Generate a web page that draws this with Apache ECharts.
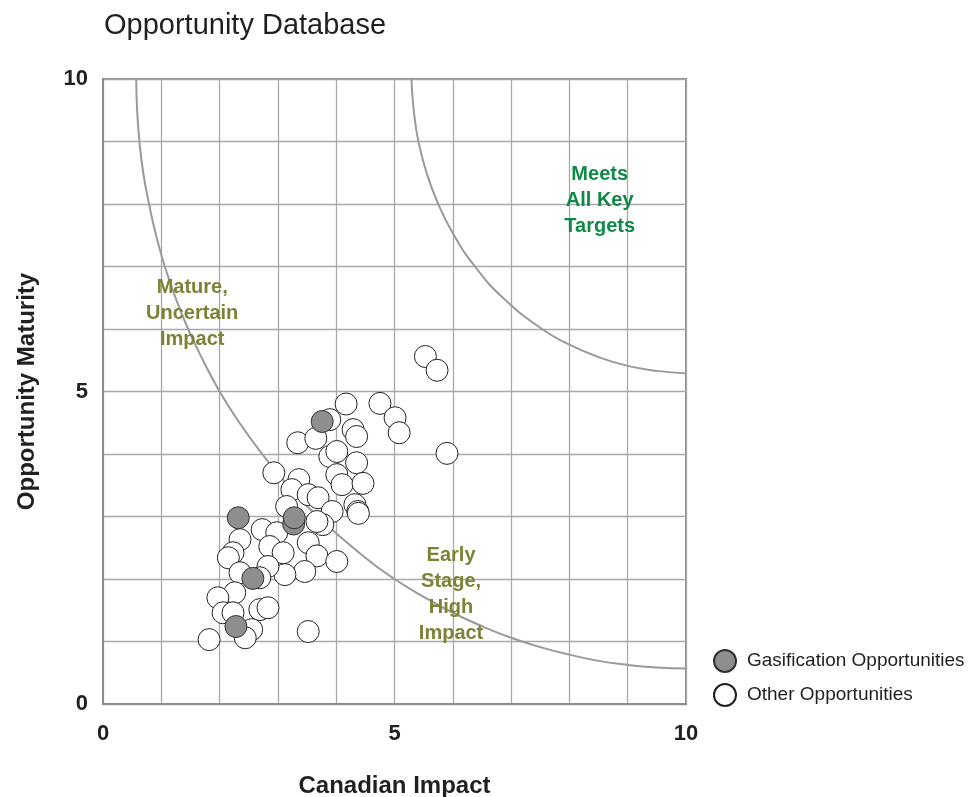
<!DOCTYPE html>
<html lang="en">
<head>
    <meta charset="utf-8">
    <title>Opportunity Database</title>
    <script src="https://cdn.jsdelivr.net/npm/echarts@6.0.0/dist/echarts.min.js"></script>
    <style>
        html, body { margin: 0; padding: 0; background: #fff; }
        #chart { width: 972px; height: 797px; }
    </style>
</head>
<body>
<div id="chart"></div>
<script type="text/javascript">
    // gasification opportunities [impact, maturity]
    var gasificationPoints = [
        [3.27, 2.88],
        [3.76, 4.52],
        [2.32, 2.98],
        [3.28, 2.98],
        [2.57, 2.01],
        [2.28, 1.24]
    ];

    // all other opportunities [impact, maturity]
    var otherPoints = [
        [5.53, 5.56], [5.73, 5.34], [4.17, 4.80], [4.75, 4.81], [5.01, 4.58],
        [5.08, 4.34], [5.90, 4.01], [3.89, 4.55], [4.29, 4.39], [4.35, 4.28],
        [3.34, 4.18], [3.65, 4.25], [3.89, 3.96], [4.01, 4.04], [4.35, 3.86],
        [4.01, 3.67], [4.10, 3.51], [4.46, 3.53], [2.93, 3.70], [3.36, 3.59],
        [3.24, 3.43], [3.52, 3.35], [3.69, 3.30], [3.15, 3.16], [3.93, 3.08],
        [4.32, 3.19], [4.37, 3.08], [4.38, 3.05], [3.77, 2.87], [3.67, 2.92],
        [2.35, 2.63], [2.23, 2.42], [2.15, 2.34], [2.73, 2.79], [2.98, 2.74],
        [2.86, 2.52], [3.09, 2.42], [3.52, 2.58], [3.67, 2.37], [4.01, 2.28],
        [3.46, 2.12], [3.12, 2.07], [2.83, 2.20], [2.69, 2.02], [2.35, 2.10],
        [2.26, 1.78], [1.97, 1.70], [2.06, 1.46], [2.23, 1.46], [2.69, 1.51],
        [2.83, 1.54], [2.55, 1.19], [2.44, 1.06], [1.82, 1.03], [3.52, 1.16]
    ];

    // boundary curves
    var innerCurve = [
        [0.57, 10], [0.585, 9.5], [0.625, 9], [0.69, 8.5], [0.79, 8], [0.91, 7.5],
        [1.06, 7], [1.245, 6.5], [1.46, 6], [1.715, 5.5], [2.0, 5], [2.34, 4.5],
        [2.73, 4], [3.17, 3.5], [3.68, 3], [4.5, 2.34], [5.0, 2.0], [5.5, 1.715],
        [6.0, 1.46], [6.5, 1.245], [7.0, 1.06], [7.5, 0.91], [8.0, 0.79],
        [8.5, 0.69], [9.0, 0.625], [9.5, 0.585], [10, 0.57]
    ];
    var outerCurve = [
        [5.29, 10], [5.33, 9.5], [5.41, 9], [5.55, 8.5], [5.75, 8], [6.02, 7.5],
        [6.38, 7], [6.86, 6.5], [7.53, 6], [8.0, 5.75], [8.5, 5.55],
        [9.0, 5.41], [9.5, 5.33], [10, 5.29]
    ];

    // region labels
    var regionLabels = [
        { name: 'Mature,\nUncertain\nImpact', value: [1.53, 6.25], color: '#7d8236' },
        { name: 'Meets\nAll Key\nTargets', value: [8.52, 8.06], color: '#0f8a46' },
        { name: 'Early\nStage,\nHigh\nImpact', value: [5.97, 1.76], color: '#7d8236' }
    ];

    var tickLabels = ['0', '5', '10'];
    var fontFamily = 'Liberation Sans, Arial, Helvetica, sans-serif';

    var myChart = echarts.init(document.getElementById('chart'));

    var curveStyle = { color: '#9a9a9c', width: 2 };

    function tickFormatter(v) {
        return tickLabels.indexOf(String(v)) >= 0 ? String(v) : '';
    }

    var option = {
        animation: false,
        textStyle: { fontFamily: fontFamily },
        title: {
            text: 'Opportunity Database',
            left: 99,
            top: 6,
            textStyle: { fontSize: 29, fontWeight: 'normal', color: '#231f20', fontFamily: fontFamily }
        },
        legend: {
            orient: 'vertical',
            left: 708,
            top: 644,
            itemWidth: 34,
            itemHeight: 22,
            itemGap: 10,
            icon: 'circle',
            data: ['Gasification Opportunities', 'Other Opportunities'],
            textStyle: { fontSize: 19, color: '#231f20', fontFamily: fontFamily }
        },
        grid: {
            left: 103,
            right: 286,
            top: 79,
            bottom: 93,
            containLabel: false,
            outerBoundsMode: 'none',
            show: true,
            borderColor: '#8c8c8e',
            borderWidth: 2
        },
        xAxis: {
            type: 'value',
            min: 0,
            max: 10,
            interval: 1,
            name: 'Canadian Impact',
            nameLocation: 'middle',
            nameGap: 70,
            nameTextStyle: { fontSize: 24, fontWeight: 'bold', color: '#231f20' },
            axisLine: { lineStyle: { color: '#8c8c8e', width: 2 } },
            axisTick: { show: false },
            splitLine: { lineStyle: { color: '#a9a9ab', width: 1.3 } },
            axisLabel: {
                fontSize: 22,
                fontWeight: 'bold',
                color: '#231f20',
                margin: 19,
                formatter: tickFormatter
            }
        },
        yAxis: {
            type: 'value',
            min: 0,
            max: 10,
            interval: 1,
            name: 'Opportunity Maturity',
            nameLocation: 'middle',
            nameRotate: 90,
            nameGap: 64,
            nameTextStyle: { fontSize: 24, fontWeight: 'bold', color: '#231f20' },
            axisLine: { lineStyle: { color: '#8c8c8e', width: 2 } },
            axisTick: { show: false },
            splitLine: { lineStyle: { color: '#a9a9ab', width: 1.3 } },
            axisLabel: {
                fontSize: 22,
                fontWeight: 'bold',
                color: '#231f20',
                margin: 15,
                formatter: tickFormatter
            }
        },
        series: [
            {
                name: 'inner',
                type: 'line',
                data: innerCurve,
                smooth: true,
                showSymbol: false,
                silent: true,
                lineStyle: curveStyle,
                z: 1
            },
            {
                name: 'outer',
                type: 'line',
                data: outerCurve,
                smooth: true,
                showSymbol: false,
                silent: true,
                lineStyle: curveStyle,
                z: 1
            },
            {
                name: 'labels',
                type: 'scatter',
                data: regionLabels.map(function (d) {
                    return {
                        name: d.name,
                        value: d.value,
                        label: { color: d.color }
                    };
                }),
                symbolSize: 1,
                itemStyle: { color: '#ffffff', opacity: 0 },
                silent: true,
                z: 2,
                label: {
                    show: true,
                    position: 'inside',
                    formatter: '{b}',
                    fontSize: 20,
                    fontWeight: 'bold',
                    lineHeight: 26,
                    align: 'center',
                    verticalAlign: 'middle',
                    textBorderWidth: 0,
                    opacity: 1
                }
            },
            {
                name: 'Other Opportunities',
                type: 'scatter',
                data: otherPoints,
                symbol: 'circle',
                symbolSize: 22,
                itemStyle: { color: '#ffffff', borderColor: '#231f20', borderWidth: 1, opacity: 1 },
                z: 3
            },
            {
                name: 'Gasification Opportunities',
                type: 'scatter',
                data: gasificationPoints,
                symbol: 'circle',
                symbolSize: 22,
                itemStyle: { color: '#8e8e91', borderColor: '#303030', borderWidth: 1, opacity: 1 },
                z: 4
            }
        ]
    };

    myChart.setOption(option);
</script>
</body>
</html>
